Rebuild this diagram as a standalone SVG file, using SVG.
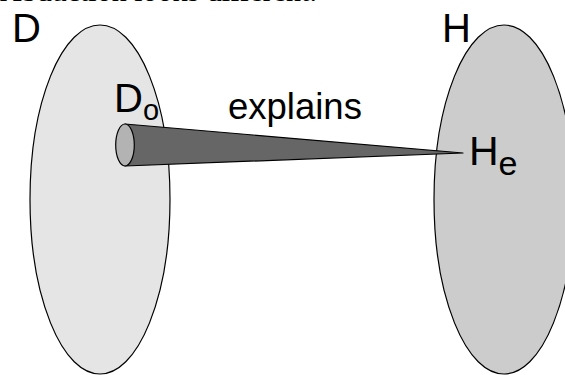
<svg xmlns="http://www.w3.org/2000/svg" width="565" height="375" viewBox="0 0 565 375">
<style>
.lbl{font-family:"Liberation Sans",Arial,sans-serif;fill:#000}
.set{stroke:#000;stroke-width:1.2}
</style>
<rect width="565" height="375" fill="#fff"/>
<text x="0" y="1" font-family="Liberation Serif,serif" font-size="30">Abduction looks different.</text>
<g id="D">
<ellipse class="set" cx="100" cy="199.5" rx="70" ry="174.5" fill="#e5e5e5"/>
<text class="lbl" x="12" y="42" font-size="40">D</text>
</g>
<g id="H">
<ellipse class="set" cx="504" cy="199.5" rx="70" ry="174.5" fill="#cccccc"/>
<text class="lbl" x="442" y="42" font-size="40">H</text>
</g>
<g id="connectors">
<polygon class="set" points="125,124 463,153 125,166" fill="#666666" stroke-linejoin="round"/>
<ellipse class="set" cx="125" cy="145" rx="9.3" ry="21" fill="#b3b3b3"/>
<text class="lbl" x="228" y="119" font-size="36.5">explains</text>
</g>
<g id="Do">
<text class="lbl" x="114" y="112" font-size="40">D<tspan font-size="29" dy="8">o</tspan></text>
</g>
<g id="He">
<text class="lbl" x="469" y="165" font-size="41">H<tspan font-size="34" dy="10">e</tspan></text>
</g>
</svg>
